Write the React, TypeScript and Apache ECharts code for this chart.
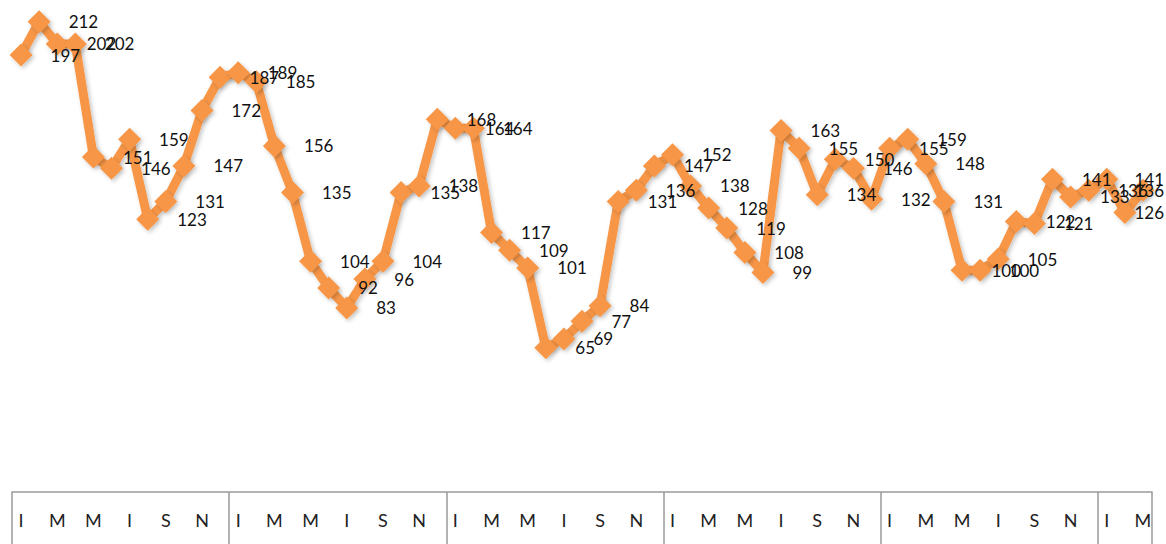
import React, { useEffect, useRef } from "react";
import * as echarts from "echarts";

// Romanian month initials (Ianuarie ... Decembrie)
const monthLabels = ["I", "F", "M", "A", "M", "I", "I", "A", "S", "O", "N", "D"];

// Monthly values (5 full years + 3 months)
const values = [
  197, 212, 202, 202, 151, 146, 159, 123, 131, 147, 172, 187,
  189, 185, 156, 135, 104, 92, 83, 96, 104, 135, 138, 168,
  164, 164, 117, 109, 101, 65, 69, 77, 84, 131, 136, 147,
  152, 138, 128, 119, 108, 99, 163, 155, 134, 150, 146, 132,
  155, 159, 148, 131, 100, 100, 105, 122, 121, 141, 133, 136,
  141, 126, 136,
];

const categories = values.map((_, i) => monthLabels[i % 12]);

const CHART_W = 1166;
const CHART_H = 544;

export default function App() {
  const ref = useRef<HTMLDivElement>(null);

  useEffect(() => {
    if (!ref.current) return;
    const chart = echarts.init(ref.current, undefined, { renderer: "svg" });
    const orange = "#F79646";
    chart.setOption({
      animation: false,
      backgroundColor: "#ffffff",
      grid: { left: 12, right: 14, top: 4, bottom: 52 },
      xAxis: {
        type: "category",
        data: categories,
        boundaryGap: true,
        axisLine: { show: true, lineStyle: { color: "#9a9a9a", width: 1.5 } },
        axisTick: {
          show: true,
          interval: (index: number) => index % 12 === 0,
          length: 60,
          lineStyle: { color: "#9a9a9a", width: 1.5 },
        },
        axisLabel: {
          interval: 1,
          margin: 19,
          color: "#222222",
          fontFamily: "Lato",
          fontSize: 18,
        },
        splitLine: { show: false },
      },
      yAxis: {
        type: "value",
        min: 0,
        max: 220,
        show: false,
        splitLine: { show: false },
      },
      series: [
        {
          type: "line",
          data: values,
          symbol: "diamond",
          symbolSize: 23,
          showAllSymbol: true,
          lineStyle: {
            color: orange,
            width: 9,
            shadowColor: "rgba(0,0,0,0.22)",
            shadowBlur: 4,
            shadowOffsetX: 2,
            shadowOffsetY: 2,
          },
          itemStyle: {
            color: orange,
            borderWidth: 0,
            shadowColor: "rgba(0,0,0,0.22)",
            shadowBlur: 4,
            shadowOffsetX: 2,
            shadowOffsetY: 2,
          },
          label: {
            show: true,
            position: "right",
            distance: 18,
            color: "#111111",
            fontFamily: "Lato",
            fontSize: 17,
          },
          labelLayout: (params: any) => {
            const r = params.labelRect;
            const over = r.x + r.width - (CHART_W - 2);
            return over > 0 ? { dx: -over } : {};
          },
          emphasis: { disabled: true },
        },
      ],
    });
    return () => chart.dispose();
  }, []);

  return (
    <div
      ref={ref}
      style={{ position: "absolute", left: 0, top: 0, width: CHART_W, height: CHART_H }}
    />
  );
}
